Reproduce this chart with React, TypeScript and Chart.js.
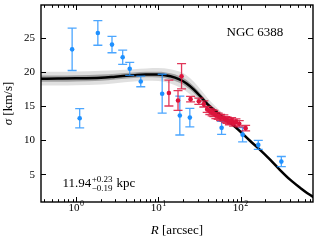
import { useEffect, useRef } from "react";
import { Chart, registerables } from "chart.js";

Chart.register(...registerables);

// ---- data ----
const blueR = [0.89, 1.1, 1.83, 2.72, 3.67, 4.47, 6.09, 11.1, 18.2, 24.1, 58.7, 105.7, 164, 313];
const blueSigma = [23.3, 13.2, 25.7, 24.0, 22.15, 20.45, 18.6, 16.8, 13.6, 13.3, 11.8, 10.8, 9.3, 6.85];
const blueErr = [3.1, 1.4, 1.8, 1.2, 1.05, 0.95, 0.78, 2.85, 2.85, 1.35, 0.95, 1.05, 0.65, 0.75];

const redR = [13.4, 17.3, 19.1, 24.6, 31, 35.7, 39.2, 42.2, 45, 47.2, 50, 53.3, 57, 62.5, 66, 68.7, 73, 77.7, 82, 87.7, 96.2, 115];
const redSigma = [16.9, 15.8, 19.35, 16.0, 15.7, 15.3, 14.5, 14.2, 14.0, 13.9, 13.6, 13.5, 13.3, 13.25, 13.0, 12.9, 12.7, 12.85, 12.5, 12.65, 12.4, 11.75];
const redErr = [1.9, 1.45, 1.85, 0.4, 0.45, 0.45, 0.45, 0.45, 0.45, 0.45, 0.45, 0.45, 0.45, 0.45, 0.45, 0.45, 0.45, 0.45, 0.45, 0.45, 0.45, 0.4];

const lineR = [0.37, 0.6, 1, 2, 3, 5, 7, 10, 14, 18, 22, 27, 33, 40, 50, 60, 70, 85, 100, 130, 170, 230, 300, 400, 530, 650, 800];
const lineSigma = [19.0, 19.02, 19.05, 19.15, 19.3, 19.5, 19.6, 19.6, 19.35, 18.9, 18.3, 17.4, 16.3, 15.2, 14.2, 13.4, 12.8, 12.0, 11.2, 9.9, 8.65, 7.1, 5.65, 4.2, 3.0, 2.2, 1.55];
const bandOuter = [1.0, 1.0, 1.0, 1.0, 0.95, 0.9, 0.9, 0.95, 1.05, 1.15, 1.2, 1.15, 1.05, 0.9, 0.7, 0.55, 0.45, 0.35, 0.3, 0.25, 0.2, 0.2, 0.2, 0.2, 0.2, 0.2, 0.2];
const bandInner = [0.45, 0.45, 0.45, 0.45, 0.42, 0.4, 0.4, 0.42, 0.45, 0.5, 0.5, 0.48, 0.42, 0.36, 0.3, 0.25, 0.2, 0.15, 0.12, 0.1, 0.08, 0.08, 0.08, 0.08, 0.08, 0.08, 0.08];

const yTicks = [5, 10, 15, 20, 25];
const yTickLabels = ["5", "10", "15", "20", "25"];
const xMajorTicks = [1, 10, 100];
const xTickExponents = ["0", "1", "2"];

const X_MIN = 0.372;
const X_MAX = 760;
const Y_MIN = 0.93;
const Y_MAX = 29.8;

const BLUE = "rgb(30,144,255)";
const BLUE_ERR = "rgba(30,144,255,0.8)";
const RED = "rgb(220,20,60)";
const RED_ERR = "rgba(220,20,60,0.85)";
const FONT = '"Liberation Serif", "DejaVu Serif", serif';

const pts = (xs: number[], ys: number[]) => xs.map((x, i) => ({ x, y: ys[i] }));

const errorBars = {
  id: "errorBars",
  beforeDatasetDraw(chart: any, args: any) {
    const ds = chart.data.datasets[args.index] as any;
    if (!ds.yErr) return;
    const { ctx, chartArea: a } = chart;
    const xs = chart.scales.x;
    const ys = chart.scales.y;
    ctx.save();
    ctx.beginPath();
    ctx.rect(a.left, a.top, a.right - a.left, a.bottom - a.top);
    ctx.clip();
    ctx.strokeStyle = ds.errColor;
    ctx.lineWidth = 1.3;
    ds.data.forEach((p: any, i: number) => {
      const px = xs.getPixelForValue(p.x);
      const y1 = ys.getPixelForValue(p.y + ds.yErr[i]);
      const y2 = ys.getPixelForValue(p.y - ds.yErr[i]);
      ctx.beginPath();
      ctx.moveTo(px, y1);
      ctx.lineTo(px, y2);
      ctx.moveTo(px - 4.5, y1);
      ctx.lineTo(px + 4.5, y1);
      ctx.moveTo(px - 4.5, y2);
      ctx.lineTo(px + 4.5, y2);
      ctx.stroke();
    });
    ctx.restore();
  },
};

const frame = {
  id: "frame",
  afterDraw(chart: any) {
    const { ctx, chartArea: a } = chart;
    const xs = chart.scales.x;
    const ys = chart.scales.y;
    ctx.save();
    ctx.strokeStyle = "#000";
    ctx.lineWidth = 1;
    // x ticks (major + minor), inward on bottom and top
    ctx.beginPath();
    for (let d = 0.1; d <= 1000; d *= 10) {
      for (let m = 1; m <= 9; m++) {
        const v = m * d;
        if (v < X_MIN || v > X_MAX) continue;
        const px = Math.round(xs.getPixelForValue(v)) + 0.5;
        const len = m === 1 ? 5 : 2.8;
        ctx.moveTo(px, a.bottom);
        ctx.lineTo(px, a.bottom - len);
        ctx.moveTo(px, a.top);
        ctx.lineTo(px, a.top + len);
      }
    }
    for (const v of yTicks) {
      const py = Math.round(ys.getPixelForValue(v)) + 0.5;
      ctx.moveTo(a.left, py);
      ctx.lineTo(a.left + 5, py);
      ctx.moveTo(a.right, py);
      ctx.lineTo(a.right - 5, py);
    }
    ctx.stroke();
    ctx.lineWidth = 1.4;
    ctx.strokeRect(a.left, a.top, a.right - a.left, a.bottom - a.top);

    ctx.fillStyle = "#000";
    // y tick labels
    ctx.font = `11px ${FONT}`;
    ctx.textAlign = "right";
    ctx.textBaseline = "middle";
    yTicks.forEach((v, i) => {
      ctx.fillText(yTickLabels[i], a.left - 6, ys.getPixelForValue(v) + 0.5);
    });
    ctx.textAlign = "left";
    ctx.textBaseline = "alphabetic";

    // x tick labels with superscript
    xMajorTicks.forEach((v, i) => {
      const px = xs.getPixelForValue(v);
      ctx.font = `11px ${FONT}`;
      const wb = ctx.measureText("10").width;
      ctx.font = `8px ${FONT}`;
      const we = ctx.measureText(xTickExponents[i]).width;
      const x0 = px - (wb + we + 0.5) / 2;
      ctx.font = `11px ${FONT}`;
      ctx.fillText("10", x0, 211);
      ctx.font = `8px ${FONT}`;
      ctx.fillText(xTickExponents[i], x0 + wb + 0.5, 206);
    });

    // x title
    const cx = (a.left + a.right) / 2;
    ctx.font = `italic 13px ${FONT}`;
    const wR = ctx.measureText("R").width;
    ctx.font = `13px ${FONT}`;
    const wRest = ctx.measureText(" [arcsec]").width;
    let sx = cx - (wR + wRest) / 2;
    ctx.font = `italic 13px ${FONT}`;
    ctx.fillText("R", sx, 234);
    ctx.font = `13px ${FONT}`;
    ctx.fillText(" [arcsec]", sx + wR, 234);

    // y title (rotated)
    const cy = (a.top + a.bottom) / 2;
    ctx.save();
    ctx.translate(12, cy);
    ctx.rotate(-Math.PI / 2);
    ctx.font = `italic 13px ${FONT}`;
    const wS = ctx.measureText("σ").width;
    ctx.font = `13px ${FONT}`;
    const wK = ctx.measureText(" [km/s]").width;
    sx = -(wS + wK) / 2;
    ctx.font = `italic 13px ${FONT}`;
    ctx.fillText("σ", sx, 0);
    ctx.font = `13px ${FONT}`;
    ctx.fillText(" [km/s]", sx + wS, 0);
    ctx.restore();

    // annotations
    ctx.font = `13px ${FONT}`;
    ctx.fillText("NGC 6388", 226.5, 36);

    ctx.font = `13px ${FONT}`;
    const mainTxt = "11.94";
    ctx.fillText(mainTxt, 62.5, 187);
    const wm = ctx.measureText(mainTxt).width;
    ctx.font = `9px ${FONT}`;
    const sup = "+0.23";
    const sub = "\u22120.19";
    ctx.fillText(sup, 62.5 + wm + 0.5, 181.5);
    ctx.fillText(sub, 62.5 + wm + 0.5, 190.5);
    const wsc = Math.max(ctx.measureText(sup).width, ctx.measureText(sub).width);
    ctx.font = `13px ${FONT}`;
    ctx.fillText("kpc", 62.5 + wm + 0.5 + wsc + 4, 187);
    ctx.restore();
  },
};

export default function App() {
  const ref = useRef<HTMLCanvasElement | null>(null);

  useEffect(() => {
    document.body.style.margin = "0";
    const canvas = ref.current;
    if (!canvas) return;

    const outerUpper = lineR.map((x, i) => ({ x, y: lineSigma[i] + bandOuter[i] }));
    const outerLower = lineR.map((x, i) => ({ x, y: lineSigma[i] - bandOuter[i] }));
    const innerUpper = lineR.map((x, i) => ({ x, y: lineSigma[i] + bandInner[i] }));
    const innerLower = lineR.map((x, i) => ({ x, y: lineSigma[i] - bandInner[i] }));

    const bandStyle = {
      borderWidth: 0,
      pointRadius: 0,
      cubicInterpolationMode: "monotone" as const,
      borderColor: "rgba(0,0,0,0)",
    };

    const chart = new Chart(canvas, {
      type: "line",
      data: {
        datasets: [
          {
            label: "red",
            data: pts(redR, redSigma),
            showLine: false,
            pointRadius: 2.3,
            pointBackgroundColor: RED,
            pointBorderWidth: 0,
            order: 0,
            yErr: redErr,
            errColor: RED_ERR,
          } as any,
          {
            label: "blue",
            data: pts(blueR, blueSigma),
            showLine: false,
            pointRadius: 2.3,
            pointBackgroundColor: BLUE,
            pointBorderWidth: 0,
            order: 1,
            yErr: blueErr,
            errColor: BLUE_ERR,
          } as any,
          {
            label: "model",
            data: pts(lineR, lineSigma),
            borderColor: "#000",
            borderWidth: 2.5,
            pointRadius: 0,
            cubicInterpolationMode: "monotone",
            fill: false,
            order: 2,
          },
          { label: "innerU", data: innerUpper, fill: "+1", backgroundColor: "rgba(0,0,0,0.28)", order: 3, ...bandStyle },
          { label: "innerL", data: innerLower, fill: false, order: 3, ...bandStyle },
          { label: "outerU", data: outerUpper, fill: "+1", backgroundColor: "rgba(0,0,0,0.12)", order: 4, ...bandStyle },
          { label: "outerL", data: outerLower, fill: false, order: 4, ...bandStyle },
        ],
      },
      options: {
        responsive: false,
        animation: false,
        devicePixelRatio: 1,
        layout: { padding: { top: 5, right: 7, left: 0, bottom: 0 } },
        plugins: {
          legend: { display: false },
          tooltip: { enabled: false },
        },
        scales: {
          x: {
            type: "logarithmic",
            min: X_MIN,
            max: X_MAX,
            grid: { display: false },
            border: { display: false },
            ticks: { display: false },
            afterFit(s: any) {
              s.height = 38;
            },
          },
          y: {
            type: "linear",
            min: Y_MIN,
            max: Y_MAX,
            grid: { display: false, drawTicks: false },
            border: { display: false },
            ticks: { display: false },
            afterFit(s: any) {
              s.width = 41;
            },
          },
        },
      },
      plugins: [errorBars, frame],
    });
    return () => chart.destroy();
  }, []);

  return <canvas ref={ref} width={320} height={240} style={{ display: "block" }} />;
}
